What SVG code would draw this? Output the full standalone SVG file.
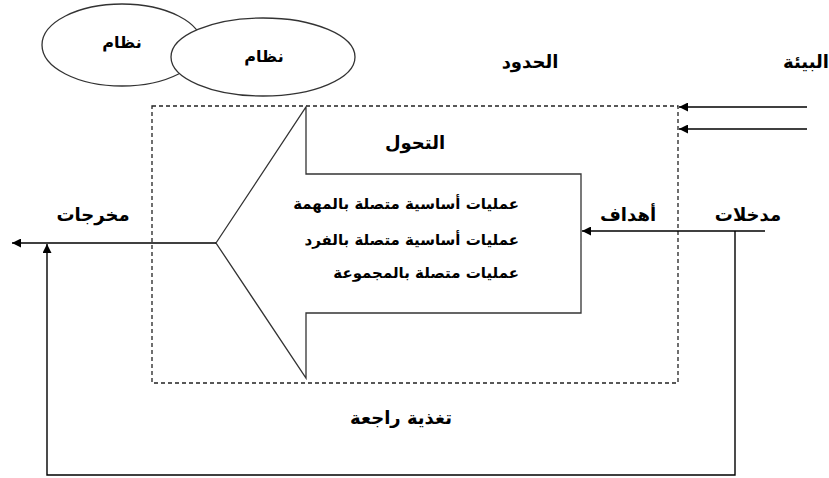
<svg xmlns="http://www.w3.org/2000/svg" width="829" height="478" viewBox="0 0 829 478">
<style>
text{font-family:"DejaVu Sans","Noto Sans",sans-serif;font-weight:bold;font-size:18px;fill:#000}
.c{text-anchor:middle}
.r{text-anchor:end}
.p{font-size:15px}
.s{font-size:16px}
.ln{stroke:#000;stroke-width:1.4;fill:none}
.sh{stroke:#333;stroke-width:1.3;fill:#fff}
</style>
<defs>
<marker id="ah" viewBox="0 0 10 10" refX="10" refY="5" markerWidth="10" markerHeight="9" markerUnits="userSpaceOnUse" orient="auto">
<path d="M0,0 L10,5 L0,10 z" fill="#000"/>
</marker>
</defs>
<rect width="829" height="478" fill="#fff"/>
<g id="system1">
<ellipse cx="122" cy="45" rx="80" ry="41" class="sh"/>
<text x="122" y="48" class="c s">نظام</text>
</g>
<g id="system2">
<ellipse cx="263" cy="57" rx="92" ry="39" class="sh"/>
<text x="264" y="62" class="c s">نظام</text>
</g>
<g id="labels">
<text x="829" y="68" class="r">البيئة</text>
<text x="530" y="68" class="c">الحدود</text>
<text x="401" y="424" class="c">تغذية راجعة</text>
</g>
<g id="boundary">
<rect x="152" y="106" width="526" height="277" fill="none" stroke="#222" stroke-width="1.3" stroke-dasharray="4,3"/>
</g>
<g id="transformation">
<path d="M216,243 L306,107 L306,174 L581,174 L581,313 L306,313 L306,378 Z" class="sh"/>
<text x="415" y="149" class="c">التحول</text>
<text x="519" y="209" class="r p">عمليات أساسية متصلة بالمهمة</text>
<text x="519" y="245" class="r p">عمليات أساسية متصلة بالفرد</text>
<text x="519" y="278" class="r p">عمليات متصلة بالمجموعة</text>
</g>
<g id="inputs">
<text x="748" y="221" class="c">مدخلات</text>
<text x="628" y="221" class="c">أهداف</text>
</g>
<g id="outputs">
<text x="93" y="221" class="c">مخرجات</text>
</g>
<g id="connectors">
<line x1="807" y1="107" x2="679" y2="107" class="ln" marker-end="url(#ah)"/>
<line x1="807" y1="129" x2="679" y2="129" class="ln" marker-end="url(#ah)"/>
<line x1="765" y1="231" x2="582" y2="231" class="ln" marker-end="url(#ah)"/>
<line x1="216" y1="243" x2="12" y2="243" class="ln" marker-end="url(#ah)"/>
<polyline points="735,231 735,475 47,475 47,244" class="ln" marker-end="url(#ah)"/>
</g>
</svg>
